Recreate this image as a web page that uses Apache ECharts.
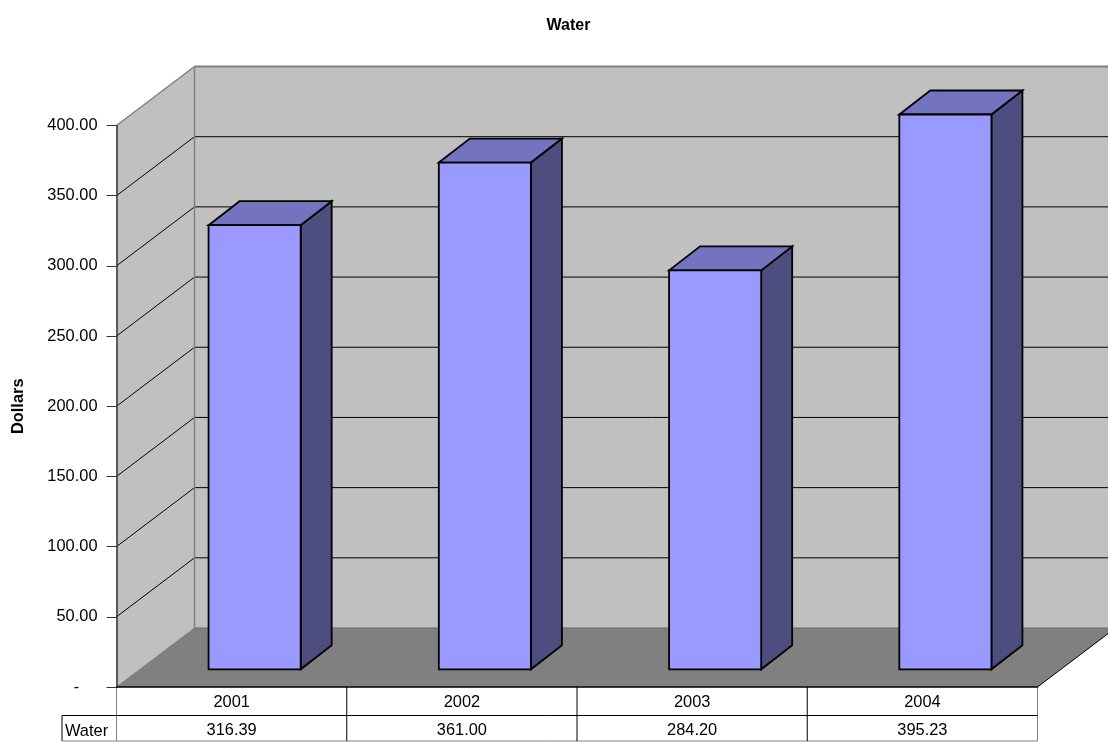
<!DOCTYPE html>
<html>
<head>
<meta charset="utf-8">
<title>Water</title>
<style>
html, body { margin: 0; padding: 0; background: #fff; }
#main { width: 1108px; height: 742px; }
</style>
<script src="https://cdn.jsdelivr.net/npm/echarts@6/dist/echarts.min.js"></script>
</head>
<body>
<div id="main"></div>
<script>
const years = ['2001', '2002', '2003', '2004'];
const waterValues = [316.39, 361.00, 284.20, 395.23];
const seriesName = 'Water';

// depth of the fake 3d box, pixels
const wallDx = 78, wallDy = -59;
const barDx = 31, barDy = -24;
const barShiftX = 23, barShiftY = -17.7;
const barRatio = 0.4;
const fontSize = 16.4;
const font = 'Liberation Sans';

let myChart = echarts.init(document.getElementById('main'));

function poly(points, fill, stroke, lineWidth) {
    return {
        type: 'polygon',
        shape: { points: points },
        style: { fill: fill, stroke: stroke || null, lineWidth: lineWidth || 0, lineJoin: 'miter' }
    };
}

function line(x1, y1, x2, y2, color, width) {
    return {
        type: 'line',
        shape: { x1: x1, y1: y1, x2: x2, y2: y2 },
        style: { stroke: color, lineWidth: width || 1 }
    };
}

// walls, floor, gridlines and the table frame
function renderBox(params, api) {
    let cs = params.coordSys;
    let left = cs.x, right = cs.x + cs.width, top = cs.y, bottom = cs.y + cs.height;
    let kids = [];
    kids.push(poly([[left + wallDx, top + wallDy], [right + wallDx, top + wallDy], [right + wallDx, bottom + wallDy], [left + wallDx, bottom + wallDy]], '#c0c0c0'));
    kids.push(poly([[left, top], [left + wallDx, top + wallDy], [left + wallDx, bottom + wallDy], [left, bottom]], '#c0c0c0'));
    kids.push(poly([[left, bottom], [left + wallDx, bottom + wallDy], [right + wallDx, bottom + wallDy], [right, bottom]], '#808080'));
    for (let v = 50; v < 400; v += 50) {
        let y = api.coord([0, v])[1];
        kids.push(line(left, y, left + wallDx, y + wallDy, '#000'));
        kids.push(line(left + wallDx, y + wallDy, right + wallDx, y + wallDy, '#000'));
    }
    kids.push(line(left, top, left + wallDx, top + wallDy, '#808080', 1.5));
    kids.push(line(left + wallDx, top + wallDy, right + wallDx, top + wallDy, '#808080', 2));
    kids.push(line(left + wallDx, top + wallDy, left + wallDx, bottom + wallDy, '#808080', 1.5));
    kids.push(line(left, bottom, left + wallDx, bottom + wallDy, '#808080', 1));
    kids.push(line(left + wallDx, bottom + wallDy, right + wallDx, bottom + wallDy, '#666', 1));
    kids.push(line(right, bottom, right + wallDx, bottom + wallDy, '#000', 1));

    // data table
    let rowY = bottom + 28.5, endY = 741;
    let tableLeft = 62;
    kids.push(line(left, bottom, left, endY, '#808080', 1));
    kids.push(line(right, bottom, right, endY, '#808080', 1));
    kids.push(line(tableLeft, rowY, right, rowY, '#000', 1));
    kids.push(line(tableLeft, rowY, tableLeft, endY, '#000', 1));
    kids.push(line(tableLeft, endY, right, endY, '#808080', 1));
    let band = api.size([1, 0])[0];
    for (let i = 1; i < years.length; i++) {
        kids.push(line(left + band * i, bottom, left + band * i, endY, '#000', 1));
    }
    kids.push({
        type: 'text',
        style: {
            x: tableLeft + 3, y: (rowY + endY) / 2 + 3,
            text: seriesName, fill: '#000',
            font: fontSize + 'px "' + font + '"',
            textAlign: 'left', textVerticalAlign: 'middle'
        }
    });
    return { type: 'group', children: kids };
}

function renderBar(params, api) {
    let i = api.value(0);
    let topPt = api.coord([i, api.value(1)]);
    let basePt = api.coord([i, 0]);
    let w = api.size([1, 0])[0] * barRatio;
    let x0 = topPt[0] - w / 2 + barShiftX, x1 = x0 + w;
    let y0 = topPt[1] + barShiftY, y1 = basePt[1] + barShiftY;
    let s = '#000', lw = 1.8;
    return {
        type: 'group',
        children: [
            poly([[x1, y0], [x1 + barDx, y0 + barDy], [x1 + barDx, y1 + barDy], [x1, y1]], '#4d4d80', s, lw),
            poly([[x0, y0], [x0 + barDx, y0 + barDy], [x1 + barDx, y0 + barDy], [x1, y0]], '#7373bf', s, lw),
            poly([[x0, y0], [x1, y0], [x1, y1], [x0, y1]], '#9999ff', s, lw)
        ]
    };
}

myChart.setOption({
    backgroundColor: '#fff',
    animation: false,
    title: {
        text: seriesName,
        left: 563.5,
        top: 13,
        textAlign: 'center',
        textStyle: { fontFamily: font, fontSize: 16, fontWeight: 'bold', color: '#000' }
    },
    grid: { left: 116.5, top: 125.5, width: 921, height: 561.5 },
    xAxis: [{
        type: 'category',
        data: years,
        z: 5,
        axisLine: { show: true, lineStyle: { color: '#000', width: 1.5 } },
        axisTick: { show: false },
        axisLabel: { interval: 0, margin: 7, fontFamily: font, fontSize: fontSize, color: '#000' }
    }, {
        type: 'category',
        position: 'bottom',
        offset: 28,
        data: waterValues.map(function (v) { return v.toFixed(2); }),
        axisLine: { show: false },
        axisTick: { show: false },
        axisLabel: { interval: 0, margin: 7, fontFamily: font, fontSize: fontSize, color: '#000' }
    }],
    yAxis: {
        type: 'value',
        min: 0,
        max: 400,
        interval: 50,
        z: 5,
        name: 'Dollars',
        nameLocation: 'middle',
        nameGap: 90,
        nameRotate: 90,
        nameTextStyle: { fontFamily: font, fontSize: fontSize, fontWeight: 'bold', color: '#000' },
        splitLine: { show: false },
        axisLine: { show: true, onZero: false, lineStyle: { color: '#333', width: 1.5 } },
        axisTick: { show: true, length: 10, lineStyle: { color: '#333', width: 1 } },
        axisLabel: {
            margin: 19,
            padding: [3, 0, 0, 0],
            fontFamily: font, fontSize: fontSize, color: '#000',
            formatter: function (v) { return v === 0 ? '-    ' : v.toFixed(2); }
        }
    },
    series: [{
        type: 'custom',
        name: 'box',
        z: 1,
        silent: true,
        clip: false,
        renderItem: renderBox,
        data: [[0, 0]]
    }, {
        type: 'custom',
        name: seriesName,
        z: 6,
        clip: false,
        renderItem: renderBar,
        encode: { x: 0, y: 1 },
        data: waterValues.map(function (v, i) { return [i, v]; })
    }]
});
</script>
</body>
</html>
